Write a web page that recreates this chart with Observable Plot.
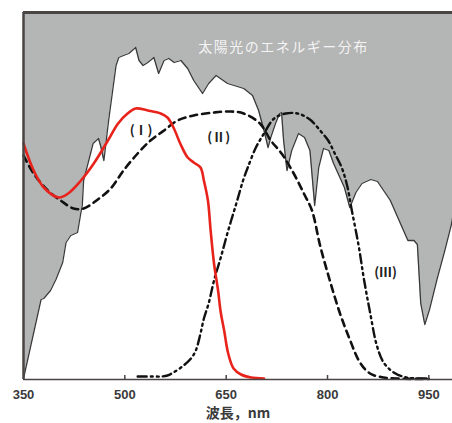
<!DOCTYPE html>
<html><head><meta charset="utf-8">
<script src="https://cdn.jsdelivr.net/npm/d3@7"></script>
<script src="https://cdn.jsdelivr.net/npm/@observablehq/plot@0.6"></script>
<style>body{margin:0;background:#fff;} svg{display:block;}</style>
</head><body><div id="chart"></div>
<script>
// wavelength (nm), relative value
const solarWl = [350,376,380,390,398,408,413,420,430,435,437,439,453,461,464,469,476,482,487,491,498,506,516,521,527,534,543,550,558,565,573,583,593,602,615,624,635,652,676,689,698,706,712,716,723,729,732,735,740,747,757,766,774,781,787,794,802,809,825,833,842,851,864,874,886,893,904,919,928,933,938,944,951,962,974,983,987];
const solarVal = [1,80,81,89,100,117,137,144,147,167,174,199,236,241,234,219,259,289,314,322,324,326,332,319,314,317,322,306,319,321,317,319,311,299,286,296,304,296,291,284,269,249,232,242,256,266,267,239,209,229,246,242,229,174,212,231,229,216,192,172,187,196,200,198,186,179,162,139,139,135,76,55,70,100,130,154,169];

const c1Wl = [350,365,380,402,416,435,454,475,490,504,516,534,553,563,572,582,593,602,612,617,623,627,632,638,642,647,653,661,672,687,706];
const c1Val = [236,209,192,182,186,199,216,239,256,266,271,269,266,262,252,236,222,217,212,199,179,149,116,89,67,49,26,11,5,2,1];

const c2Wl = [350,365,386,405,424,439,460,479,498,519,538,558,578,602,632,657,676,700,716,732,750,765,777,789,803,818,833,848,863,883,902,950];
const c2Val = [224,206,189,179,171,171,180,191,209,226,239,249,259,264,267,268,266,256,239,226,206,186,169,134,100,67,40,17,6,2,1,0.5];

const c3Wl = [519,541,553,563,572,587,598,605,612,617,624,632,642,653,665,675,682,694,706,721,738,756,774,789,801,810,821,829,836,846,854,863,873,883,898,917,947];
const c3Val = [3,3,3,4,7,14,21,29,46,61,76,99,122,149,176,199,212,232,246,261,266,266,260,249,239,227,212,194,169,134,100,67,34,17,7,2,1];

const xTicks = [350,500,650,800,950];
const titleText = "太陽光のエネルギー分布";
const curveLabels = [
  {wl: 524, v: 249, t: "(Ⅰ)"},
  {wl: 639, v: 242, t: "(Ⅱ)"},
  {wl: 886, v: 107, t: "(Ⅲ)"}
];

const zip = (a, b) => a.map((w, i) => ({wl: w, v: b[i]}));
const solar = zip(solarWl, solarVal);
const c1 = zip(c1Wl, c1Val);
const c2 = zip(c2Wl, c2Val);
const c3 = zip(c3Wl, c3Val);
const YMAX = 367;

const chart = Plot.plot({
  width: 452, height: 423,
  marginLeft: 23, marginRight: 0, marginTop: 12, marginBottom: 44,
  style: {fontFamily: "'Liberation Sans', Arial, sans-serif", background: "#fff"},
  x: {domain: [350, 985]},
  y: {domain: [0, YMAX], axis: null},
  marks: [
    Plot.areaY(solar, {x: "wl", y1: "v", y2: YMAX, fill: "#b4b5b5"}),
    Plot.line(solar, {x: "wl", y: "v", stroke: "#3a3a3a", strokeWidth: 1.3}),
    Plot.line(c2, {x: "wl", y: "v", curve: "catmull-rom", stroke: "#111", strokeWidth: 2.6, strokeDasharray: "7,5"}),
    Plot.line(c3, {x: "wl", y: "v", curve: "catmull-rom", stroke: "#111", strokeWidth: 2.4, strokeDasharray: "9,4,2,4,2,4"}),
    Plot.line(c1, {x: "wl", y: "v", curve: "catmull-rom", stroke: "#e8231b", strokeWidth: 2.6}),
    Plot.ruleX([350], {stroke: "#4a4443", strokeWidth: 2.5}),
    Plot.ruleY([YMAX], {stroke: "#4a4443", strokeWidth: 3}),
    Plot.ruleY([0], {stroke: "#4a4443", strokeWidth: 1.6}),
    Plot.ruleX(xTicks.slice(1), {y1: 0, y2: 4, stroke: "#4a4443", strokeWidth: 1.5}),
    Plot.axisX({ticks: xTicks, tickSize: 0, tickPadding: 10, fontSize: 13, fontWeight: "bold", fill: "#3a3a3a",
      label: "波長，nm", labelAnchor: "center", labelArrow: "none", labelOffset: 38}),
    Plot.text([titleText], {x: 735, y: 332, text: d => d, fill: "#f4f4f4", fontSize: 14,
      fontFamily: "'Noto Sans CJK JP', sans-serif"}),
    Plot.text(curveLabels, {x: "wl", y: "v", text: "t", fill: "#222", fontSize: 13, fontWeight: "bold",
      fontFamily: "'Noto Sans CJK JP', serif"})
  ]
});
document.getElementById("chart").appendChild(chart);
// style the axis label and title spacing
chart.querySelectorAll("g[aria-label='x-axis label'] text").forEach(t => {
  t.setAttribute("font-family", "'Noto Sans CJK JP', sans-serif");
  t.setAttribute("font-size", "14");
  t.setAttribute("font-weight", "bold");
  t.setAttribute("fill", "#3a3a3a");
});
chart.querySelectorAll("g[aria-label='text'] text").forEach(t => {
  if (t.textContent === titleText) t.setAttribute("letter-spacing", "1.5");
});
</script>
</body></html>
